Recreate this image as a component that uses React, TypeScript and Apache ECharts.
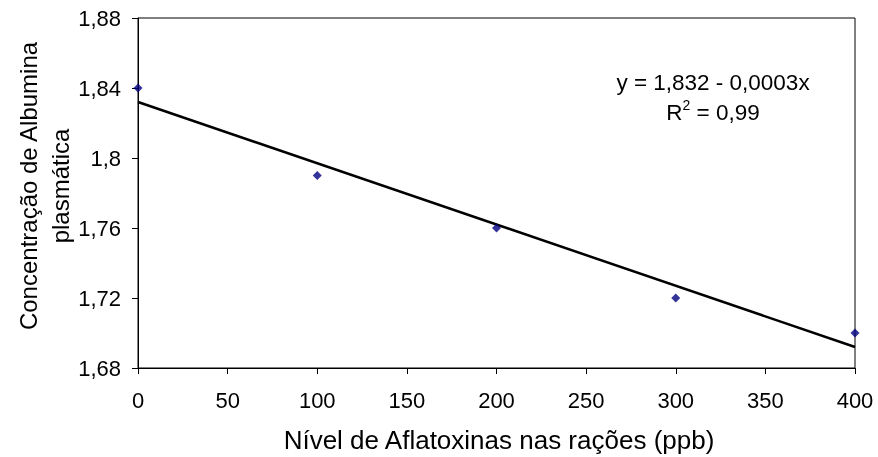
import React, { useEffect, useRef } from "react";
import * as echarts from "echarts";

const doses = [0, 100, 200, 300, 400];
const albumina = [1.84, 1.79, 1.76, 1.72, 1.7];
const trendX = [0, 400];
const trendY = [1.832, 1.692];
const yTicks = [1.68, 1.72, 1.76, 1.8, 1.84, 1.88];
const xTitle = "Nível de Aflatoxinas nas rações (ppb)";
const yTitle = "Concentração de Albumina\nplasmática";
const eqLine = "y = 1,832 - 0,0003x";
const r2Value = "0,99";

const FONT = "'Liberation Sans', Arial, sans-serif";

export default function App() {
  const ref = useRef<HTMLDivElement>(null);
  useEffect(() => {
    if (!ref.current) return;
    const chart = echarts.init(ref.current, null, { renderer: "svg" });
    chart.setOption({
      animation: false,
      textStyle: { fontFamily: FONT },
      grid: {
        left: 138,
        top: 18,
        right: 23,
        bottom: 89,
        show: true,
        borderColor: "#000",
        borderWidth: 1,
        backgroundColor: "transparent",
      },
      xAxis: {
        type: "value",
        min: 0,
        max: 400,
        interval: 50,
        axisLine: { show: true, lineStyle: { color: "#000", width: 1 } },
        axisTick: { show: true, length: 6, lineStyle: { color: "#000" } },
        axisLabel: { color: "#000", fontSize: 22, margin: 21, fontFamily: FONT },
        splitLine: { show: false },
      },
      yAxis: {
        type: "value",
        min: 1.68,
        max: 1.88,
        interval: 0.04,
        axisLine: { show: true, lineStyle: { color: "#000", width: 1 } },
        axisTick: { show: true, length: 6, lineStyle: { color: "#000" } },
        axisLabel: {
          color: "#000",
          fontSize: 22,
          margin: 17,
          fontFamily: FONT,
          formatter: (v: number) => {
            const t = yTicks.find((k) => Math.abs(k - v) < 1e-6);
            return String(Number((t ?? v).toFixed(2))).replace(".", ",");
          },
        },
        splitLine: { show: false },
      },
      series: [
        {
          type: "line",
          data: trendX.map((x, i) => [x, trendY[i]]),
          symbol: "none",
          lineStyle: { color: "#000", width: 2.5 },
          z: 2,
        },
        {
          type: "scatter",
          data: doses.map((x, i) => [x, albumina[i]]),
          symbol: "diamond",
          symbolSize: 9,
          itemStyle: { color: "#000080" },
          z: 3,
        },
      ],
      graphic: [
        {
          type: "text",
          x: 499,
          y: 440,
          style: {
            text: xTitle,
            fontSize: 26,
            fontFamily: FONT,
            fill: "#000",
            align: "center",
            verticalAlign: "middle",
          },
        },
        {
          type: "text",
          x: 44,
          y: 186,
          rotation: Math.PI / 2,
          style: {
            text: yTitle,
            fontSize: 24,
            lineHeight: 32,
            fontFamily: FONT,
            fill: "#000",
            align: "center",
            verticalAlign: "middle",
          },
        },
        {
          type: "text",
          x: 713,
          y: 82,
          style: {
            text: eqLine,
            fontSize: 22.5,
            fontFamily: FONT,
            fill: "#000",
            align: "center",
            verticalAlign: "middle",
          },
        },
        {
          type: "text",
          x: 713,
          y: 111,
          style: {
            text: "{n|R}{s|2}{n| = " + r2Value + "}",
            fontFamily: FONT,
            fill: "#000",
            align: "center",
            verticalAlign: "middle",
            rich: {
              n: { fontSize: 22.5, fontFamily: FONT, fill: "#000", verticalAlign: "bottom", lineHeight: 26 },
              s: { fontSize: 14, fontFamily: FONT, fill: "#000", verticalAlign: "top", lineHeight: 26 },
            },
          },
        },
      ],
    });
    return () => chart.dispose();
  }, []);
  return (
    <div
      ref={ref}
      style={{ position: "fixed", left: 0, top: 0, width: 878, height: 457 }}
    />
  );
}
